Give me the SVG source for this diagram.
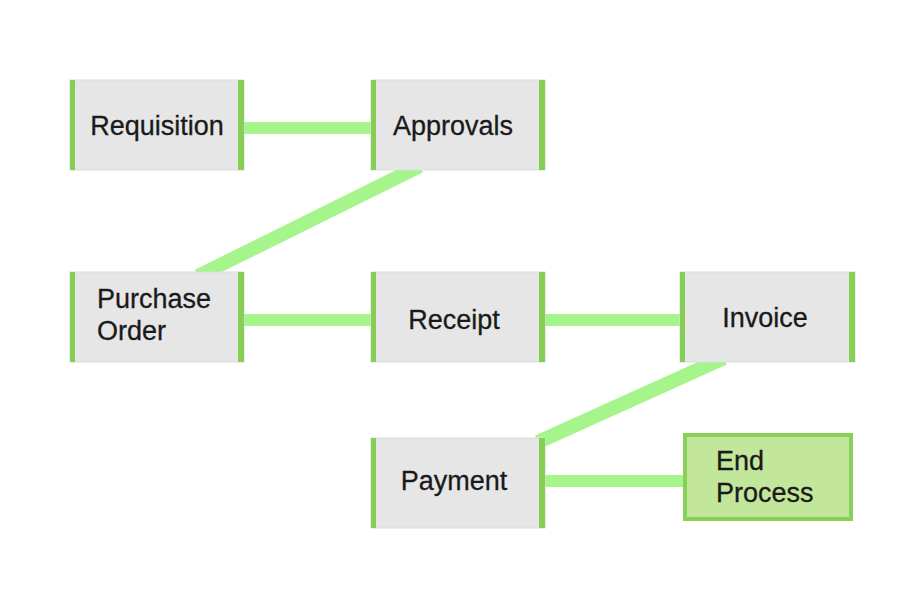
<svg xmlns="http://www.w3.org/2000/svg" width="909" height="605" viewBox="0 0 909 605">
<style>
.box{fill:#e6e6e6;stroke:#dcdcdc;stroke-width:1}
.bar{fill:#86cf55}
.end{fill:#c3e79a;stroke:#88d05a;stroke-width:4}
.lbl{font-family:"Liberation Sans",Arial,sans-serif;font-size:27px;fill:#1a1a1a;stroke:#1a1a1a;stroke-width:0.3}
.c{text-anchor:middle}
.conn line{stroke:#a6f48c;stroke-width:12;stroke-linecap:butt}
.conn line.d{stroke-width:14}
</style>
<rect width="909" height="605" fill="#ffffff"/>
<g id="connectors" class="conn">
<line x1="240" y1="128" x2="375" y2="128"/>
<line class="d" x1="420" y1="166" x2="198" y2="276"/>
<line x1="240" y1="320" x2="375" y2="320"/>
<line x1="541" y1="320" x2="684" y2="320"/>
<line class="d" x1="724" y1="358" x2="538" y2="442"/>
<line x1="541" y1="481" x2="686" y2="481"/>
</g>
<g id="requisition">
<rect class="box" x="70" y="80" width="174" height="90"/>
<rect class="bar" x="70" y="80" width="5" height="90"/>
<rect class="bar" x="238" y="80" width="6" height="90"/>
<text class="lbl c" x="157" y="135">Requisition</text>
</g>
<g id="approvals">
<rect class="box" x="371" y="80" width="174" height="90"/>
<rect class="bar" x="371" y="80" width="5" height="90"/>
<rect class="bar" x="539" y="80" width="6" height="90"/>
<text class="lbl c" x="453" y="135">Approvals</text>
</g>
<g id="purchase-order">
<rect class="box" x="70" y="272" width="174" height="90"/>
<rect class="bar" x="70" y="272" width="5" height="90"/>
<rect class="bar" x="238" y="272" width="6" height="90"/>
<text class="lbl" x="97" y="308">Purchase</text>
<text class="lbl" x="97" y="340">Order</text>
</g>
<g id="receipt">
<rect class="box" x="371" y="272" width="174" height="90"/>
<rect class="bar" x="371" y="272" width="5" height="90"/>
<rect class="bar" x="539" y="272" width="6" height="90"/>
<text class="lbl c" x="454" y="329">Receipt</text>
</g>
<g id="invoice">
<rect class="box" x="680" y="272" width="175" height="90"/>
<rect class="bar" x="680" y="272" width="5" height="90"/>
<rect class="bar" x="849" y="272" width="6" height="90"/>
<text class="lbl c" x="765" y="327">Invoice</text>
</g>
<g id="payment">
<rect class="box" x="371" y="438" width="174" height="90"/>
<rect class="bar" x="371" y="438" width="5" height="90"/>
<rect class="bar" x="539" y="438" width="6" height="90"/>
<text class="lbl c" x="454" y="490">Payment</text>
</g>
<g id="end-process">
<rect class="end" x="685" y="435" width="166" height="84"/>
<text class="lbl" x="716" y="470">End</text>
<text class="lbl" x="716" y="502">Process</text>
</g>
</svg>
